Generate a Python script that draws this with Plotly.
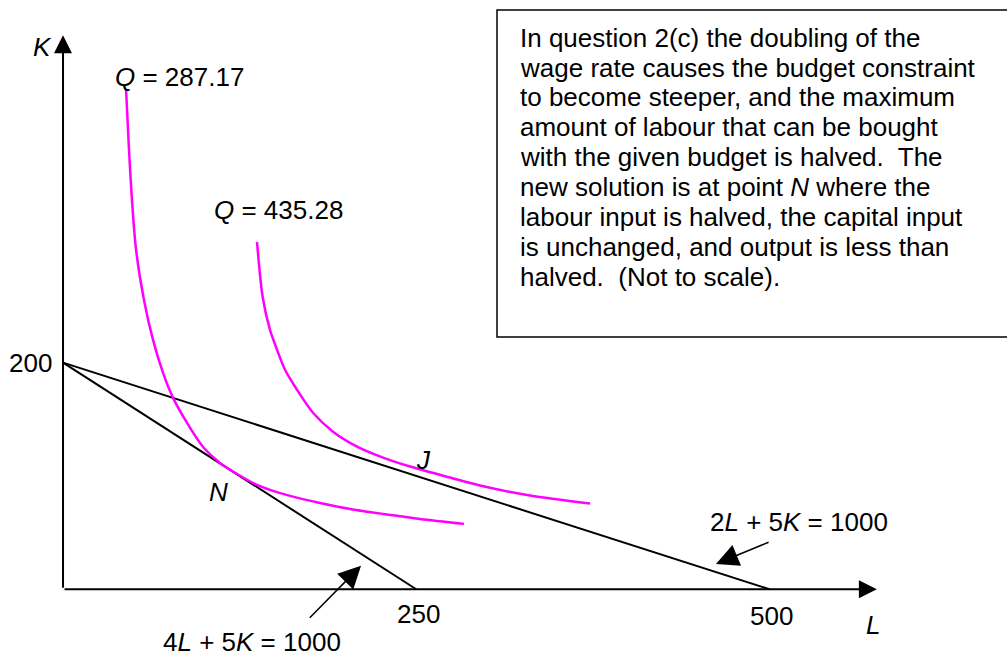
import plotly.graph_objects as go

# ===== DATA =====
# budget constraints (intercepts on the L and K axes)
budget_K0 = 200
budget_L0_new = 250   # 4L + 5K = 1000
budget_L0_old = 500   # 2L + 5K = 1000

# isoquants (drawn "not to scale")
q1_L = [44.6, 46.7, 48.8, 51.7, 57.3, 63.7, 70.8, 77.9, 87.8, 99.1, 111.1, 125.3,
        137.3, 146.5, 160.7, 181.9, 203.1, 226.5, 252.7, 283.8]
q1_K = [441.6, 387.7, 343.6, 299.5, 255.4, 220.1, 191.0, 168.9, 146.8, 125.6, 111.5, 100.2,
        92.1, 87.7, 82.4, 76.2, 70.9, 66.5, 62.1, 57.7]
q2_L = [137.3, 141.3, 146.5, 151.5, 157.1, 165.6, 176.9, 191.1, 208.1, 226.5, 245.6, 273.9,
        295.1, 330.5, 373.0]
q2_K = [306.5, 258.0, 228.9, 211.3, 193.7, 176.1, 155.8, 139.1, 125.9, 116.2, 108.3, 98.6,
        91.5, 82.7, 75.6]

tick_L = [250, 500]
tick_K = [200]

note_lines = [
    "In question 2(c) the doubling of the",
    "wage rate causes the budget constraint",
    "to become steeper, and the maximum",
    "amount of labour that can be bought",
    "with the given budget is halved.  The",
    "new solution is at point <i>N</i> where the",
    "labour input is halved, the capital input",
    "is unchanged, and output is less than",
    "halved.  (Not to scale).",
]

# ===== FIGURE =====
W, H = 1007, 657
FONT = "Arial, Liberation Sans, sans-serif"
fs = 26

fig = go.Figure()

# budget lines
fig.add_trace(go.Scatter(x=[0, budget_L0_new], y=[budget_K0, 0], mode="lines",
                         line=dict(color="black", width=2), hoverinfo="skip"))
fig.add_trace(go.Scatter(x=[0, budget_L0_old], y=[budget_K0, 0], mode="lines",
                         line=dict(color="black", width=2), hoverinfo="skip"))

# isoquants
for xs, ys in [(q1_L, q1_K), (q2_L, q2_K)]:
    fig.add_trace(go.Scatter(x=xs, y=ys, mode="lines",
                             line=dict(color="#FF00FF", width=2.5, shape="spline", smoothing=0.8),
                             hoverinfo="skip"))

anns = []

# axes with arrowheads
anns.append(dict(x=576, y=0, ax=0, ay=0, xref="x", yref="y", axref="x", ayref="y", text="",
                 showarrow=True, arrowhead=2, arrowwidth=2, arrowsize=1.8, arrowcolor="black"))
anns.append(dict(x=0, y=489, ax=0, ay=0, xref="x", yref="y", axref="x", ayref="y", text="",
                 showarrow=True, arrowhead=2, arrowwidth=2, arrowsize=1.8, arrowcolor="black"))

# pointer arrows to the budget lines
anns.append(dict(x=210.9, y=20.8, ax=173.6, ay=-26.5, xref="x", yref="y", axref="x", ayref="y", text="",
                 showarrow=True, arrowhead=2, arrowwidth=1.5, arrowsize=3, arrowcolor="black"))
anns.append(dict(x=462.1, y=22.3, ax=500.4, ay=42.0, xref="x", yref="y", axref="x", ayref="y", text="",
                 showarrow=True, arrowhead=2, arrowwidth=1.5, arrowsize=3, arrowcolor="black"))


def label(x, y, text, xanchor="center"):
    anns.append(dict(x=x, y=y, xref="x", yref="y", text=text, showarrow=False,
                     xanchor=xanchor, yanchor="middle", font=dict(family=FONT, size=fs, color="black")))


# tick values
label(251.5, -21.8, str(tick_L[0]))
label(501.5, -23.6, str(tick_L[1]))
label(-6.4, tick_K[0], str(tick_K[0]), xanchor="right")

# axis names
label(573.5, -31.4, "<i>L</i>")
label(-14.4, 478.9, "<i>K</i>")

# curve / point labels
label(35.6, 452.4, "<i>Q</i> = 287.17", xanchor="left")
label(105.2, 334.8, "<i>Q</i> = 435.28", xanchor="left")
label(255.0, 114.1, "<i>J</i>")
label(109.9, 86.1, "<i>N</i>")
label(133.5, -46.8, "4<i>L</i> + 5<i>K</i> = 1000")
label(520.6, 59.7, "2<i>L</i> + 5<i>K</i> = 1000")

# explanatory note, one annotation per line
for i, line in enumerate(note_lines):
    anns.append(dict(x=518 / W, y=1 - (37.7 + i * 29.9) / H, xref="paper", yref="paper",
                     text=line, showarrow=False, xanchor="left", yanchor="middle",
                     font=dict(family=FONT, size=fs, color="black")))

fig.update_layout(
    width=W, height=H,
    margin=dict(l=0, r=0, t=0, b=0),
    paper_bgcolor="white", plot_bgcolor="white",
    showlegend=False,
    xaxis=dict(visible=False, range=[-44.6, 668.1], fixedrange=True),
    yaxis=dict(visible=False, range=[-59.8, 520.1], fixedrange=True),
    annotations=anns,
    shapes=[dict(type="rect", xref="paper", yref="paper",
                 x0=497 / W, x1=1.01, y0=1 - 337 / H, y1=1 - 10 / H,
                 line=dict(color="black", width=1.5), fillcolor="rgba(0,0,0,0)")],
)

fig.write_html("out.html", post_script="document.body.style.margin='0';",
               config={"displayModeBar": False})
